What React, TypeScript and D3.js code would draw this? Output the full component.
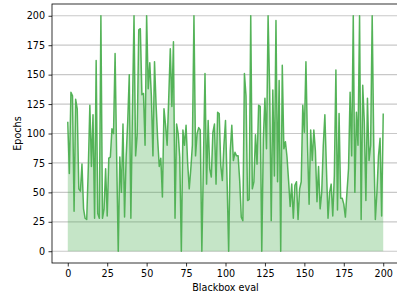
import { useRef, useEffect } from 'react';
import * as d3 from 'd3';

// Epochs per blackbox evaluation (index = eval number 0..200)
const epochs: number[] = [
  110, 66, 135, 132, 34, 129, 121, 53, 51, 74, 36, 28, 27, 70, 124, 72, 116, 28, 162, 32, 28, 200, 28, 36, 70, 30, 79,
  80, 104, 100, 168, 80, 0, 80, 50, 108, 29, 80, 110, 150, 28, 120, 200, 81, 99, 188, 189, 133, 134, 90, 200, 138, 160, 132, 81, 161,
  124, 95, 72, 79, 46, 121, 107, 90, 130, 172, 123, 178, 28, 108, 100, 80, 0, 103, 90, 107, 75, 53, 70, 90, 200, 81, 100, 105, 103, 0,
  75, 151, 57, 111, 70, 63, 101, 108, 57, 118, 117, 73, 60, 90, 111, 60, 0, 85, 107, 77, 84, 81, 81, 60, 29, 26,
  151, 132, 43, 44, 200, 53, 59, 99, 74, 124, 123, 0, 96, 130, 87, 200, 137, 26, 137, 64, 196, 59, 145, 0, 158, 87, 93, 80, 60,
  38, 57, 28, 56, 59, 27, 53, 59, 124, 101, 161, 90, 40, 103, 77, 103, 85, 42, 72, 36, 50, 90, 116, 70, 28, 50, 57, 30, 64,
  154, 35, 117, 45, 45, 40, 29, 50, 70, 135, 81, 200, 50, 118, 90, 200, 27, 141, 110, 43, 130, 77, 90, 200, 90, 27, 50, 81, 96, 30, 117,
];

const xTicks = [0, 25, 50, 75, 100, 125, 150, 175, 200];
const yTicks = [0, 25, 50, 75, 100, 125, 150, 175, 200];

export default function App() {
  const svgRef = useRef<SVGSVGElement>(null);

  useEffect(() => {
    if (!svgRef.current) return;
    const width = 397;
    const height = 296;
    const margin = { top: 4, right: -2, bottom: 33, left: 52 };
    const font = 'DejaVu Sans, sans-serif';
    const fs = '9.6px';

    const svg = d3.select(svgRef.current);
    svg.selectAll('*').remove();
    svg.attr('width', width).attr('height', height);

    const x = d3.scaleLinear().domain([-10, 210]).range([margin.left, width - margin.right]);
    const y = d3.scaleLinear().domain([-10, 210]).range([height - margin.bottom, margin.top]);

    // horizontal grid
    svg.selectAll('line.grid')
      .data(yTicks)
      .join('line')
      .attr('class', 'grid')
      .attr('x1', margin.left)
      .attr('x2', width - margin.right)
      .attr('y1', d => y(d))
      .attr('y2', d => y(d))
      .attr('stroke', '#b0b0b0')
      .attr('stroke-opacity', 0.7)
      .attr('stroke-width', 1.2);

    const data = epochs.map((v, i) => ({ i, v }));

    const area = d3.area<{ i: number; v: number }>()
      .x(d => x(d.i))
      .y0(y(0))
      .y1(d => y(d.v));

    svg.append('path')
      .datum(data)
      .attr('d', area)
      .attr('fill', '#4caf50')
      .attr('fill-opacity', 0.32);

    const line = d3.line<{ i: number; v: number }>()
      .x(d => x(d.i))
      .y(d => y(d.v));

    svg.append('path')
      .datum(data)
      .attr('d', line)
      .attr('fill', 'none')
      .attr('stroke', '#4caf50')
      .attr('stroke-opacity', 0.95)
      .attr('stroke-width', 1.5)
      .attr('stroke-linejoin', 'round');

    // frame
    svg.append('rect')
      .attr('x', margin.left)
      .attr('y', margin.top)
      .attr('width', width - margin.right - margin.left)
      .attr('height', height - margin.bottom - margin.top)
      .attr('fill', 'none')
      .attr('stroke', '#000')
      .attr('stroke-width', 0.8);

    const yAxis = d3.axisLeft(y).tickValues(yTicks).tickSize(3.5).tickPadding(3.5);
    const xAxis = d3.axisBottom(x).tickValues(xTicks).tickSize(3.5).tickPadding(3.5);

    const gy = svg.append('g').attr('transform', `translate(${margin.left},0)`).call(yAxis);
    const gx = svg.append('g').attr('transform', `translate(0,${height - margin.bottom})`).call(xAxis);
    for (const g of [gx, gy]) {
      g.select('.domain').remove();
      g.selectAll('line').attr('stroke', '#000').attr('stroke-width', 0.8);
      g.selectAll('text').attr('font-family', font).attr('font-size', fs).attr('fill', '#000');
    }

    svg.append('text')
      .attr('x', (margin.left + width - margin.right) / 2)
      .attr('y', 290.5)
      .attr('text-anchor', 'middle')
      .attr('font-family', font)
      .attr('font-size', fs)
      .text('Blackbox eval');

    svg.append('text')
      .attr('transform', `translate(20.5,${(margin.top + height - margin.bottom) / 2}) rotate(-90)`)
      .attr('text-anchor', 'middle')
      .attr('font-family', font)
      .attr('font-size', fs)
      .text('Epochs');
  }, []);

  return <svg ref={svgRef} style={{ position: 'absolute', left: 0, top: 0, display: 'block' }} />;
}
